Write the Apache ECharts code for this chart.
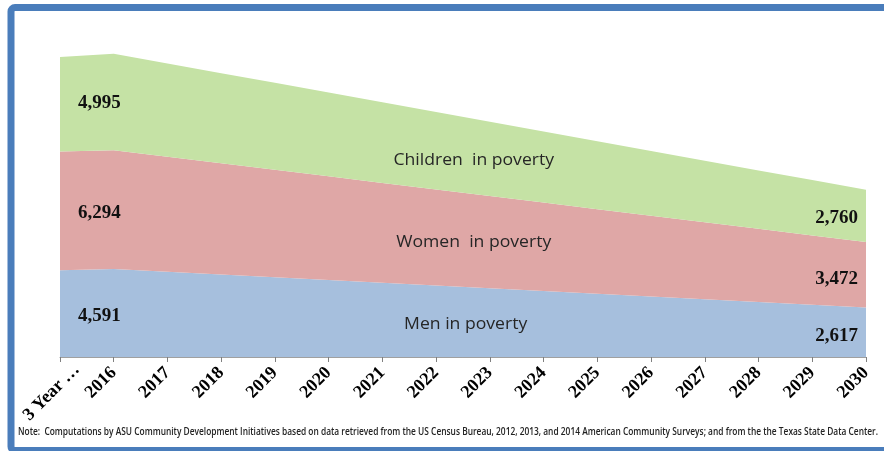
<!DOCTYPE html>
<html>
<head>
<meta charset="utf-8">
<script src="https://cdn.jsdelivr.net/npm/echarts@6/dist/echarts.min.js"></script>
<style>
html,body{margin:0;padding:0;background:#fff;}
#c{width:884px;height:451px;}
</style>
</head>
<body>
<div id="c"></div>
<script>
var categories = ['3 Year …','2016','2017','2018','2019','2020','2021','2022','2023','2024','2025','2026','2027','2028','2029','2030'];
var men      = [4591,4656,4510,4365,4220,4074,3928,3783,3637,3492,3345,3200,3054,2908,2762,2617];
var women    = [6294,6296,6094,5892,5690,5490,5288,5086,4885,4683,4480,4280,4078,3876,3674,3472];
var children = [4995,5106,4938,4770,4603,4435,4268,4100,3933,3765,3598,3430,3262,3095,2928,2760];
var seriesNames = ['Men in poverty','Women  in poverty','Children  in poverty'];
var noteText = 'Note:  Computations by ASU Community Development Initiatives based on data retrieved from the US Census Bureau, 2012, 2013, and 2014 American Community Surveys; and from the the Texas State Data Center.';

var colors = ['#a6bfdd','#dfa7a6','#c5e2a5'];
var chart = echarts.init(document.getElementById('c'));
var dataSets = [men, women, children];

function mk(name, data, color){
  return {
    name: name, type: 'line', stack: 'total', data: data,
    symbol: 'none', lineStyle: {width: 0},
    areaStyle: {color: color, opacity: 1},
    itemStyle: {color: color}, silent: true
  };
}

chart.setOption({
  animation: false,
  grid: {left: 60, right: 18, top: 17, bottom: 94},
  xAxis: {
    type: 'category', data: categories, boundaryGap: false,
    axisLine: {lineStyle: {color: '#a0a0a0', width: 1}},
    axisTick: {show: true, length: 5, lineStyle: {color: '#808080'}},
    axisLabel: {rotate: 45, interval: 0, fontFamily: 'Liberation Serif', fontWeight: 'bold',
      fontSize: 18, color: '#000', margin: 13,
      formatter: function(v, i){ return i === 0 ? '' : v; }}
  },
  yAxis: {type: 'value', min: 0, max: 18000, show: false, splitLine: {show: false}},
  series: [mk(seriesNames[0], men, colors[0]), mk(seriesNames[1], women, colors[1]), mk(seriesNames[2], children, colors[2])]
});

function fmt(v){ return v.toLocaleString('en-US'); }

var graphics = [];
graphics.push({type:'rect', shape:{x:11, y:7.5, width:900, height:443, r:4},
  style:{fill:'none', stroke:'#4a7dbb', lineWidth:7}, z: 100});

// first category label (drawn separately, as in the reference it sits further right)
var t0 = chart.convertToPixel({gridIndex:0}, [0, 0]);
graphics.push({type:'text', x: t0[0] + 17, y: t0[1] + 10, rotation: Math.PI/4,
  style:{text: categories[0], font:'bold 18px "Liberation Serif"', fill:'#000', textAlign:'right', textVerticalAlign:'middle'}, z:50});

var last = categories.length - 1;
var base0 = 0, baseL = 0;
var midIdx = 7;
var baseM = 0, baseM2 = 0;
var nameDy = [2, 2, 4];
var nameT = [0.55, 0.7, 0.7];
var leftDy = [2, 2, -1];
var rightDy = [4, 4, 2];
for (var s = 0; s < 3; s++) {
  var d = dataSets[s];
  var p0 = chart.convertToPixel({gridIndex:0}, [0, base0 + d[0]/2]);
  var pL = chart.convertToPixel({gridIndex:0}, [last, baseL + d[last]/2]);
  var pm1 = chart.convertToPixel({gridIndex:0}, [midIdx, baseM + d[midIdx]/2]);
  var pm2 = chart.convertToPixel({gridIndex:0}, [midIdx+1, baseM2 + d[midIdx+1]/2]);
  var t = nameT[s];
  graphics.push({type:'text', x: p0[0] + 18, y: p0[1] + leftDy[s], style:{text: fmt(d[0]), font:'bold 19px "Liberation Serif"', fill:'#111', textVerticalAlign:'middle', textAlign:'left'}, z:50});
  graphics.push({type:'text', x: pL[0] - 8, y: pL[1] + rightDy[s], style:{text: fmt(d[last]), font:'bold 19px "Liberation Serif"', fill:'#111', textVerticalAlign:'middle', textAlign:'right'}, z:50});
  graphics.push({type:'text', x: pm1[0] + (pm2[0]-pm1[0])*t, y: pm1[1] + (pm2[1]-pm1[1])*t + nameDy[s], scaleX: 1.1, style:{text: seriesNames[s], font:'16px "Open Sans"', fill:'#262626', textVerticalAlign:'middle', textAlign:'center'}, z:50});
  base0 += d[0]; baseL += d[last]; baseM += d[midIdx]; baseM2 += d[midIdx+1];
}
var noteFont = '600 10px "Open Sans"';
var cv = document.createElement('canvas').getContext('2d');
cv.font = noteFont;
var noteW = cv.measureText(noteText).width;
graphics.push({type:'text', x: 18, y: 432, scaleX: 860 / noteW, style:{text: noteText, font: noteFont, fill:'#222', textVerticalAlign:'middle', textAlign:'left'}, z:50});
chart.setOption({graphic: graphics});
</script>
</body>
</html>
